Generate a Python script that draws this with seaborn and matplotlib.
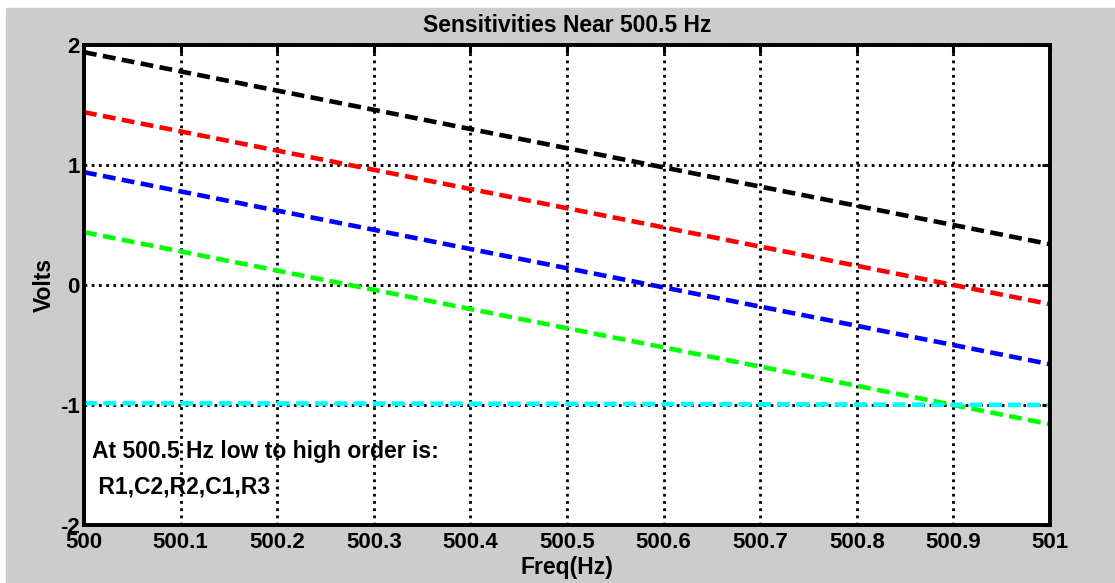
import matplotlib
matplotlib.use("Agg")
import matplotlib.pyplot as plt
import seaborn as sns
import pandas as pd
from matplotlib.patches import Rectangle

# ---- data ----
freq = [500.0, 500.5, 501.0]
s_black = [1.94, 1.14, 0.34]
s_red = [1.44, 0.64, -0.16]
s_blue = [0.94, 0.14, -0.66]
s_green = [0.44, -0.36, -1.16]
s_cyan = [-0.985, -0.99, -1.0]
series_names = ["R3", "C1", "R2", "C2", "R1"]
series_colors = ["#000000", "#ff0000", "#0000ff", "#00ff00", "#00ffff"]
x_ticks = [500.0, 500.1, 500.2, 500.3, 500.4, 500.5, 500.6, 500.7, 500.8, 500.9, 501.0]
x_tick_labels = ["500", "500.1", "500.2", "500.3", "500.4", "500.5", "500.6",
                 "500.7", "500.8", "500.9", "501"]
y_ticks = [-2, -1, 0, 1, 2]
y_tick_labels = ["-2", "-1", "0", "1", "2"]
title = "Sensitivities Near 500.5 Hz"
xlabel = "Freq(Hz)"
ylabel = "Volts"
note_lines = ["At 500.5 Hz low to high order is:", " R1,C2,R2,C1,R3"]

rows = []
for name, vals in zip(series_names, [s_black, s_red, s_blue, s_green, s_cyan]):
    for f, v in zip(freq, vals):
        rows.append({"freq": f, "volts": v, "series": name})
df = pd.DataFrame(rows)

sns.set_style("white")
plt.rcParams["font.family"] = ["Liberation Sans", "DejaVu Sans"]
plt.rcParams["font.weight"] = "bold"
plt.rcParams["text.color"] = "black"
plt.rcParams["axes.labelcolor"] = "black"
plt.rcParams["xtick.color"] = "black"
plt.rcParams["ytick.color"] = "black"

fig = plt.figure(figsize=(11.15, 5.83), dpi=100)
fig.patch.set_facecolor("white")
fig.patches.append(Rectangle((6 / 1115, 0), 1, (583 - 8) / 583,
                             transform=fig.transFigure, color="#cccccc", zorder=-10))

ax = fig.add_axes([84 / 1115, 1 - 525 / 583, (1050 - 84) / 1115, (525 - 45) / 583])
ax.set_facecolor("white")

palette = dict(zip(series_names, series_colors))
dashes = {n: (2.8, 1.4) for n in series_names}
sns.lineplot(data=df, x="freq", y="volts", hue="series", style="series",
             palette=palette, dashes=dashes, hue_order=series_names,
             style_order=series_names, linewidth=3.3, legend=False, ax=ax,
             zorder=3)

ax.set_xlim(500, 501)
ax.set_ylim(-2, 2)
ax.set_xticks(x_ticks)
ax.set_xticklabels(x_tick_labels)
ax.set_yticks(y_ticks)
ax.set_yticklabels(y_tick_labels)

ax.grid(True, color="black", linestyle=(0, (1, 1.6)), linewidth=2.0, zorder=1)
ax.set_axisbelow(True)
for sp in ax.spines.values():
    sp.set_visible(True)
    sp.set_color("black")
    sp.set_linewidth(2.8)
    sp.set_zorder(5)

ax.tick_params(direction="in", length=6, width=2.2, top=True, right=True,
               labelsize=16, pad=3, colors="black", labelcolor="black")
ax.tick_params(axis="x", pad=5)
for lbl in ax.get_xticklabels() + ax.get_yticklabels():
    lbl.set_fontweight("bold")

ax.set_title(title, fontsize=16.5, fontweight="bold", pad=9, color="black")
ax.set_xlabel(xlabel, fontsize=16.5, fontweight="bold", labelpad=2, color="black")
ax.set_ylabel(ylabel, fontsize=16.5, fontweight="bold", labelpad=3, color="black")

ax.text(500.008, -1.39, note_lines[0], fontsize=16.5, fontweight="bold",
        va="center", ha="left", zorder=6, color="black")
ax.text(500.008, -1.68, note_lines[1], fontsize=16.5, fontweight="bold",
        va="center", ha="left", zorder=6, color="black")

fig.savefig("out.png", dpi=100, facecolor=fig.get_facecolor())
